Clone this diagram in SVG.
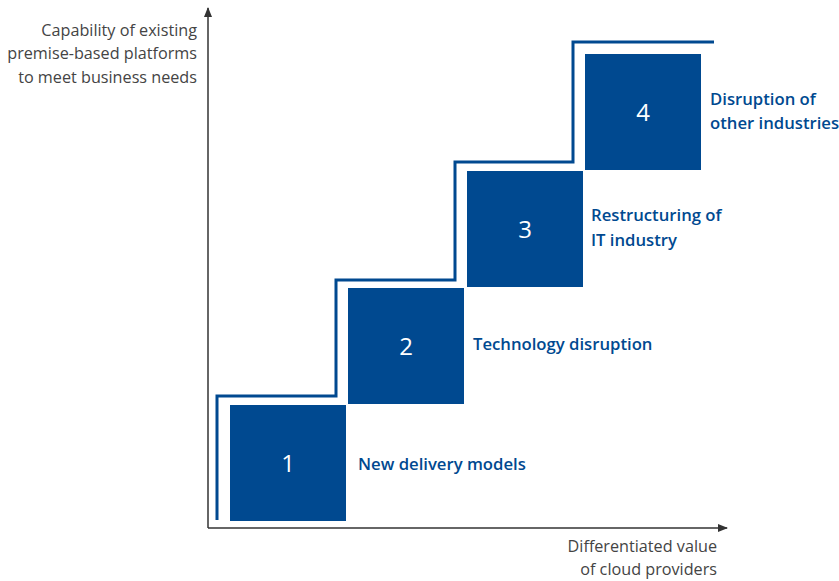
<svg xmlns="http://www.w3.org/2000/svg" width="839" height="581" viewBox="0 0 839 581">
<defs>
<style>
.box{fill:#004990}
.num{font-family:"Open Sans","Liberation Sans",sans-serif;font-size:24px;fill:#ffffff;text-anchor:middle}
.lbl{font-family:"Open Sans","Liberation Sans",sans-serif;font-size:16.7px;font-weight:600;fill:#004990}
.ax{font-family:"Open Sans","Liberation Sans",sans-serif;font-size:16.2px;fill:#444444;text-anchor:end}
.axis{stroke:#333333;stroke-width:1.5;fill:none}
.stair{stroke:#004990;stroke-width:3;fill:none}
</style>
<marker id="arr" viewBox="0 0 10 10" refX="9" refY="5" markerWidth="10" markerHeight="10" markerUnits="userSpaceOnUse" orient="auto">
<path d="M0,1 L10,5 L0,9 Z" fill="#333333"/>
</marker>
</defs>
<rect width="839" height="581" fill="#ffffff"/>
<g id="connectors">
<path class="axis" d="M208,528 L208,8" marker-end="url(#arr)"/>
<path class="axis" d="M208,528 L727,528" marker-end="url(#arr)"/>
<path class="stair" d="M217,520 L217,396 L336,396 L336,280 L455,280 L455,162 L573,162 L573,42 L714,42"/>
</g>
<g id="axis-y-label">
<text class="ax" x="197" y="36">Capability of existing</text>
<text class="ax" x="197" y="59">premise-based platforms</text>
<text class="ax" x="197" y="83">to meet business needs</text>
</g>
<g id="axis-x-label">
<text class="ax" x="717" y="552">Differentiated value</text>
<text class="ax" x="717" y="575">of cloud providers</text>
</g>
<g id="node1">
<rect class="box" x="230" y="405" width="116" height="116"/>
<text class="num" x="288" y="472">1</text>
<text class="lbl" x="358" y="470">New delivery models</text>
</g>
<g id="node2">
<rect class="box" x="348" y="288" width="116" height="116"/>
<text class="num" x="406" y="355">2</text>
<text class="lbl" x="473" y="350">Technology disruption</text>
</g>
<g id="node3">
<rect class="box" x="467" y="171" width="116" height="116"/>
<text class="num" x="525" y="238">3</text>
<text class="lbl" x="591" y="221">Restructuring of</text>
<text class="lbl" x="591" y="246">IT industry</text>
</g>
<g id="node4">
<rect class="box" x="585" y="54" width="116" height="116"/>
<text class="num" x="643" y="121">4</text>
<text class="lbl" x="710" y="105">Disruption of</text>
<text class="lbl" x="710" y="129">other industries</text>
</g>
</svg>
